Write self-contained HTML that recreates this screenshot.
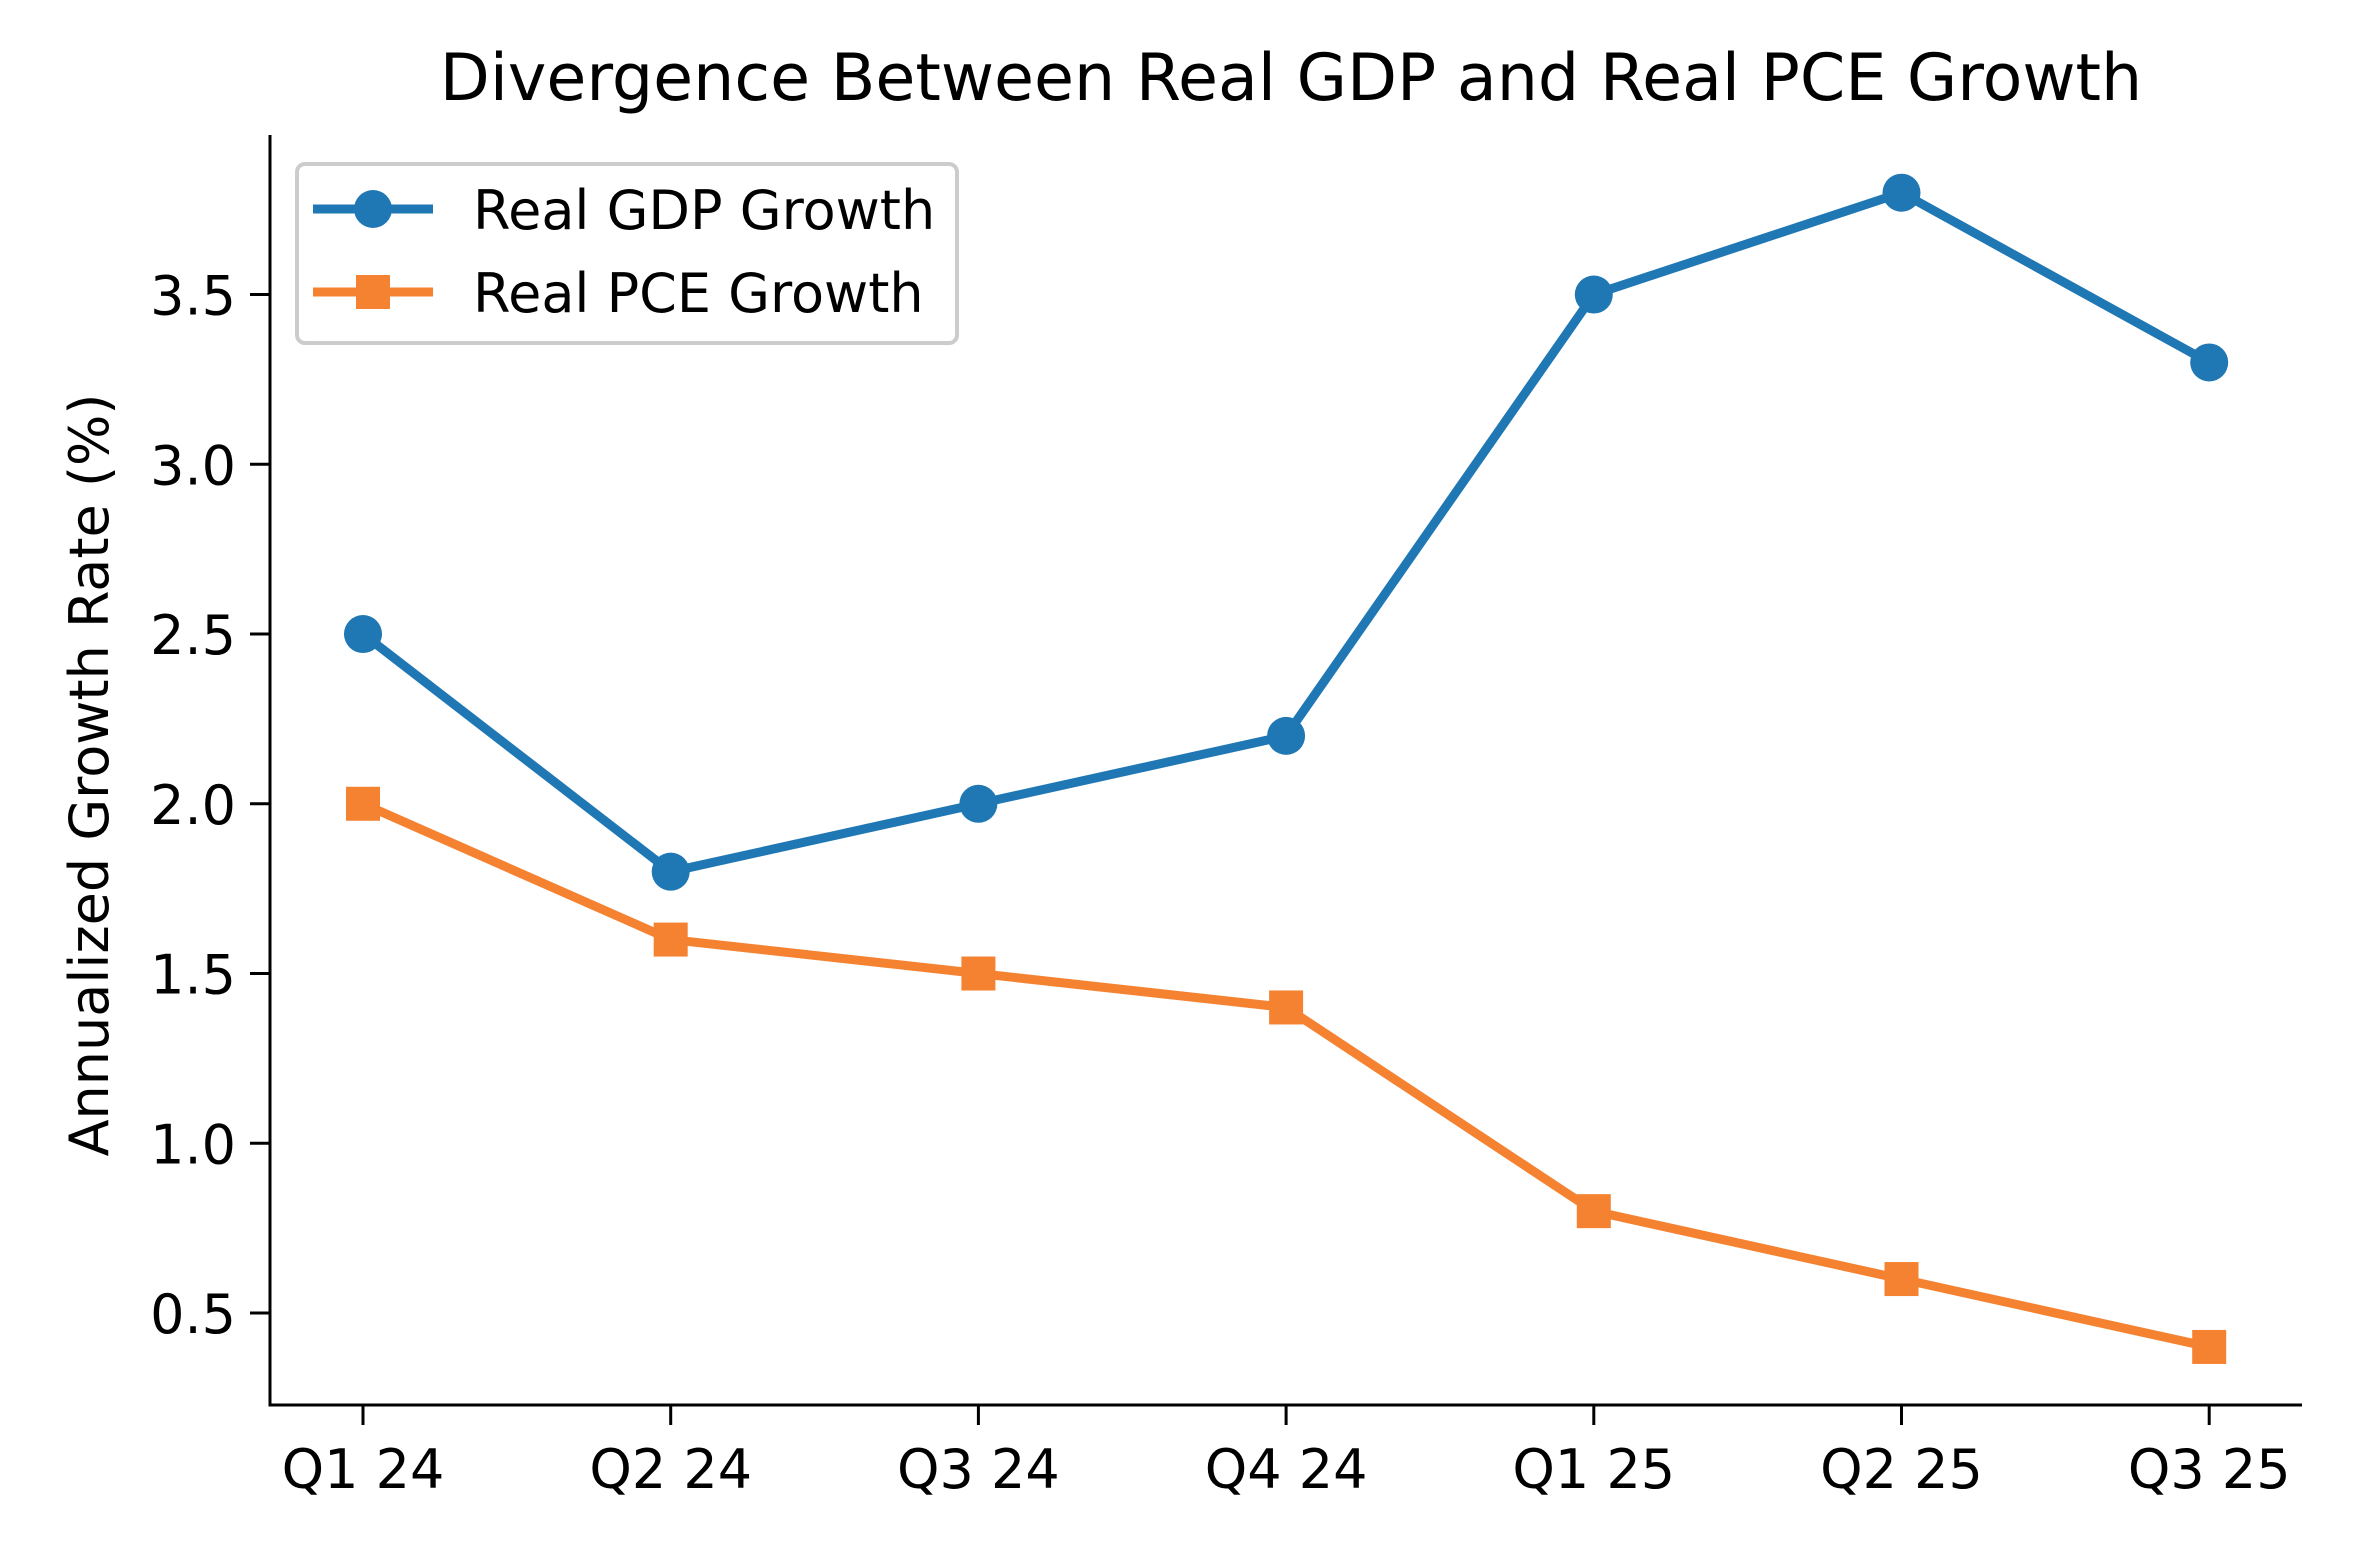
<!DOCTYPE html>
<html><head><meta charset="utf-8"><style>
html,body{margin:0;padding:0;background:#fff;}
svg{display:block;font-family:"DejaVu Sans","Liberation Sans",sans-serif;}
</style></head><body>
<svg id="chart" width="2362" height="1545" viewBox="0 0 2362 1545">
<rect width="2362" height="1545" fill="#fff"/>
<text x="1291" y="100" font-size="65" text-anchor="middle" fill="#000">Divergence Between Real GDP and Real PCE Growth</text>
<text transform="translate(108,775) rotate(-90)" font-size="54" text-anchor="middle" fill="#000">Annualized Growth Rate (%)</text>
<g id="axes"></g>
<g id="series"></g>
<g>
<rect x="297" y="164" width="660" height="179" rx="8" fill="#fff" stroke="#ccc" stroke-width="4"/>
<g>
<line x1="313" y1="209" x2="433" y2="209" stroke="#1f77b4" stroke-width="9"/>
<circle cx="373" cy="209" r="19" fill="#1f77b4"/>
<text x="473" y="229" font-size="54" fill="#000">Real GDP Growth</text></g>
<g>
<line x1="313" y1="292" x2="433" y2="292" stroke="#f58231" stroke-width="9"/>
<rect x="356" y="275" width="34" height="34" fill="#f58231"/>
<text x="473" y="312" font-size="54" fill="#000">Real PCE Growth</text></g>
</g>
</svg>
<script>
const categories=["Q1 24","Q2 24","Q3 24","Q4 24","Q1 25","Q2 25","Q3 25"];
const gdpValues=[2.5,1.8,2.0,2.2,3.5,3.8,3.3];
const pceValues=[2.0,1.6,1.5,1.4,0.8,0.6,0.4];
const yTicks=[0.5,1.0,1.5,2.0,2.5,3.0,3.5];
const NS="http://www.w3.org/2000/svg";
const L=270,R=2302,T=135,B=1405,X0=363,DX=307.7;
const yMin=0.229,yMax=3.97;
function xs(i){return X0+i*DX;}
function ys(v){return B-(v-yMin)/(yMax-yMin)*(B-T);}
function mk(tag,attrs,parent){const e=document.createElementNS(NS,tag);for(const k in attrs)e.setAttribute(k,attrs[k]);parent.appendChild(e);return e;}
const ax=document.getElementById('axes');
let s=mk('line',{x1:L,y1:T,x2:L,y2:B+1.5,stroke:'#000','stroke-width':3},ax);


s=mk('line',{x1:L-1.5,y1:B,x2:R,y2:B,stroke:'#000','stroke-width':3},ax);


yTicks.forEach(v=>{
 const y=ys(v);
 const t=mk('line',{x1:L-20,y1:y,x2:L,y2:y,stroke:'#000','stroke-width':3},ax);
 
 
 const tx=mk('text',{x:L-34,y:y+20,'font-size':54,'text-anchor':'end',fill:'#000'},ax);
 tx.textContent=v.toFixed(1);
 
 
});
categories.forEach((c,i)=>{
 const x=xs(i);
 const t=mk('line',{x1:x,y1:B,x2:x,y2:B+20,stroke:'#000','stroke-width':3},ax);
 
 
 const tx=mk('text',{x:x,y:1488,'font-size':54,'text-anchor':'middle',fill:'#000'},ax);
 tx.textContent=c;
 
 
});
const sg=document.getElementById('series');
function drawSeries(vals,color,name,square){
 const pts=vals.map((v,i)=>xs(i)+','+ys(v)).join(' ');
 const pl=mk('polyline',{points:pts,fill:'none',stroke:color,'stroke-width':9,'stroke-linejoin':'round'},sg);
 
 
 vals.forEach((v,i)=>{
  let m;
  if(square){m=mk('rect',{x:xs(i)-17,y:ys(v)-17,width:34,height:34,fill:color},sg);}
  else{m=mk('circle',{cx:xs(i),cy:ys(v),r:19,fill:color},sg);}
  
  
 });
}
drawSeries(gdpValues,'#1f77b4','gdp',false);
drawSeries(pceValues,'#f58231','pce',true);
</script>
</body></html>
